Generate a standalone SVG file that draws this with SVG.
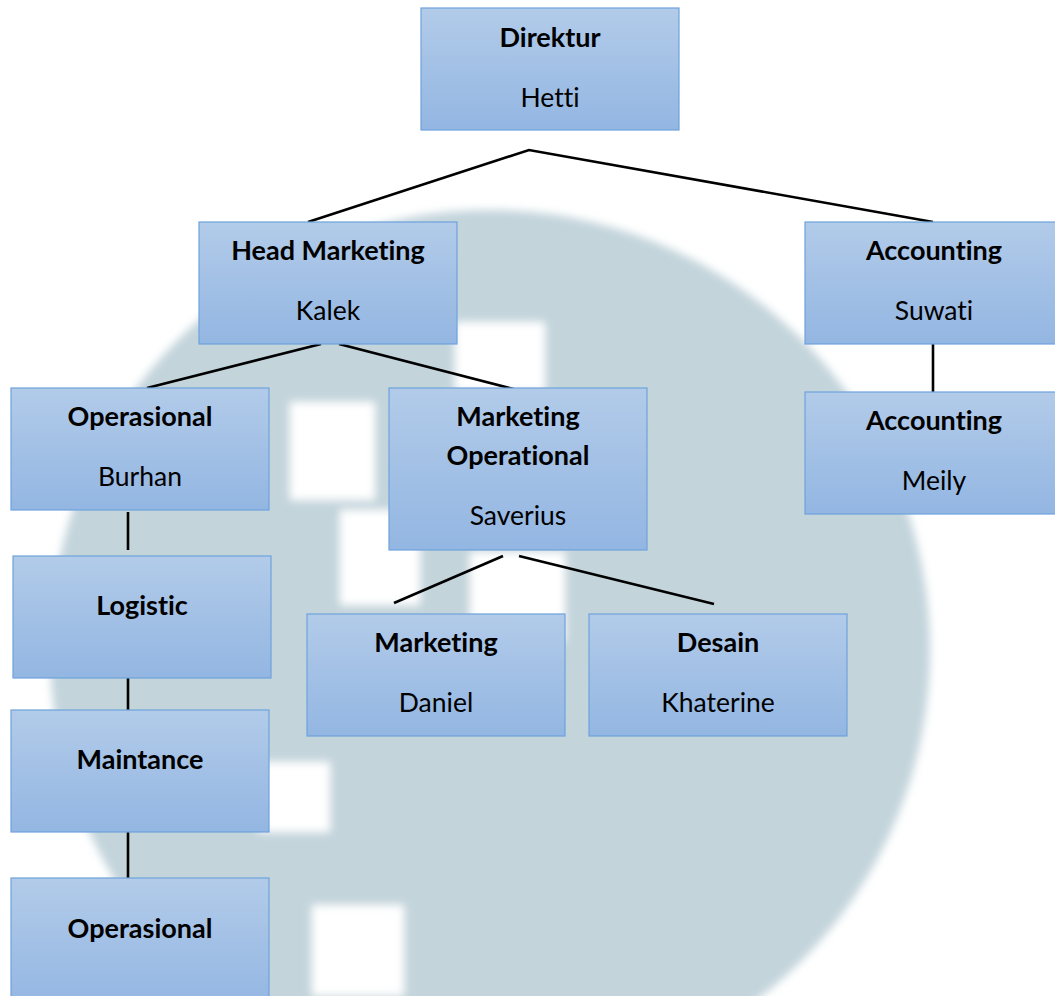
<svg xmlns="http://www.w3.org/2000/svg" width="1055" height="996" viewBox="0 0 1055 996">
<defs>
<linearGradient id="bg" x1="0" y1="0" x2="0" y2="1">
<stop offset="0" stop-color="#b2cbe9"/>
<stop offset="1" stop-color="#93b6e2"/>
</linearGradient>
<filter id="soft" x="-10%" y="-10%" width="120%" height="120%"><feGaussianBlur stdDeviation="4"/></filter>
</defs>
<style>
.box{fill:url(#bg);stroke:#6ea2dd;stroke-width:1.2}
.t{font-family:Lato,"Liberation Sans",sans-serif;font-size:26.5px;fill:#000;text-anchor:middle;font-variant-ligatures:none}
.b{font-weight:bold;font-size:27px}
.c{stroke:#000;stroke-width:2.6;fill:none}
</style>
<rect width="1055" height="996" fill="#fff"/>
<g id="watermark" filter="url(#soft)">
<circle cx="490" cy="650" r="440" fill="#c3d4db"/>
<rect x="290" y="402" width="85" height="98" fill="#fff"/>
<rect x="340" y="510" width="80" height="95" fill="#fff"/>
<rect x="470" y="552" width="95" height="90" fill="#fff"/>
<rect x="455" y="322" width="90" height="70" fill="#fff"/>
<rect x="258" y="762" width="72" height="70" fill="#fff"/>
<rect x="312" y="905" width="92" height="91" fill="#fff"/>
</g>
<g id="connectors">
<polyline class="c" points="308,222 529,150 933,222"/>
<polyline class="c" points="147,388 321,344"/>
<polyline class="c" points="339,344 517,390"/>
<line class="c" x1="128" y1="512" x2="128" y2="550"/>
<line class="c" x1="128" y1="678" x2="128" y2="716"/>
<line class="c" x1="128" y1="832" x2="128" y2="878"/>
<line class="c" x1="933" y1="344" x2="933" y2="392"/>
<line class="c" x1="503" y1="556" x2="394" y2="603"/>
<line class="c" x1="519" y1="556" x2="714" y2="604"/>
</g>
<g id="direktur"><rect class="box" x="421" y="8" width="258" height="122"/><text class="t b" x="550" y="47">Direktur</text><text class="t" x="550" y="107">Hetti</text></g>
<g id="head-marketing"><rect class="box" x="199" y="222" width="258" height="122"/><text class="t b" x="328" y="260">Head Marketing</text><text class="t" x="328" y="320">Kalek</text></g>
<g id="accounting-suwati"><rect class="box" x="805" y="222" width="258" height="122"/><text class="t b" x="934" y="260">Accounting</text><text class="t" x="934" y="320">Suwati</text></g>
<g id="accounting-meily"><rect class="box" x="805" y="392" width="258" height="122"/><text class="t b" x="934" y="430">Accounting</text><text class="t" x="934" y="490">Meily</text></g>
<g id="operasional-burhan"><rect class="box" x="11" y="388" width="258" height="122"/><text class="t b" x="140" y="426">Operasional</text><text class="t" x="140" y="486">Burhan</text></g>
<g id="marketing-operational"><rect class="box" x="389" y="388" width="258" height="162"/><text class="t b" x="518" y="426">Marketing</text><text class="t b" x="518" y="465">Operational</text><text class="t" x="518" y="525">Saverius</text></g>
<g id="logistic"><rect class="box" x="13" y="556" width="258" height="122"/><text class="t b" x="142" y="615">Logistic</text></g>
<g id="maintance"><rect class="box" x="11" y="710" width="258" height="122"/><text class="t b" x="140" y="769">Maintance</text></g>
<g id="operasional"><rect class="box" x="11" y="878" width="258" height="130"/><text class="t b" x="140" y="938">Operasional</text></g>
<g id="marketing-daniel"><rect class="box" x="307" y="614" width="258" height="122"/><text class="t b" x="436" y="652">Marketing</text><text class="t" x="436" y="712">Daniel</text></g>
<g id="desain-khaterine"><rect class="box" x="589" y="614" width="258" height="122"/><text class="t b" x="718" y="652">Desain</text><text class="t" x="718" y="712">Khaterine</text></g>
</svg>
